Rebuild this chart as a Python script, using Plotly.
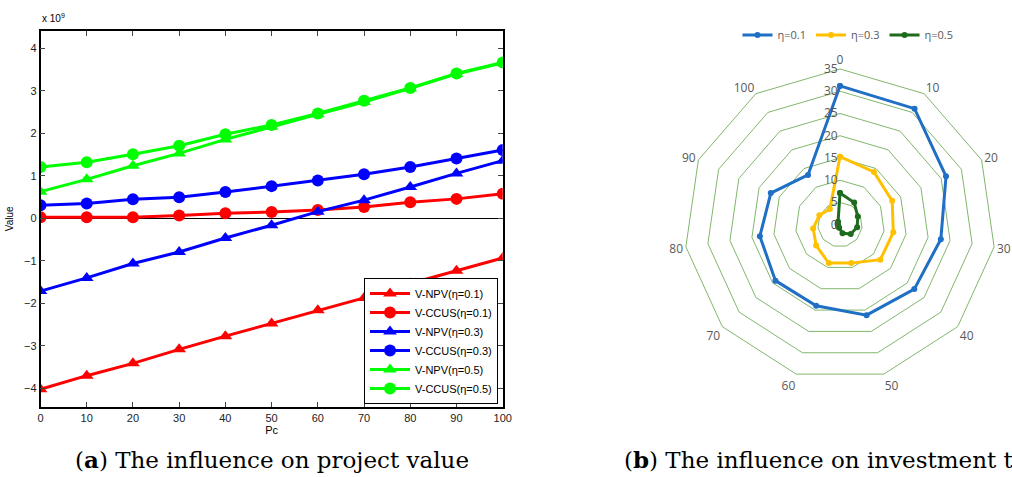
import plotly.graph_objects as go

# ---------------- data: left chart (values in units of 1e9) ----------------
pc = [0, 10, 20, 30, 40, 50, 60, 70, 80, 90, 100]
npv_01 = [-4.02, -3.70, -3.41, -3.08, -2.77, -2.47, -2.16, -1.87, -1.53, -1.23, -0.93]
ccus_01 = [0.03, 0.03, 0.03, 0.07, 0.12, 0.15, 0.20, 0.27, 0.38, 0.46, 0.58]
npv_03 = [-1.71, -1.40, -1.06, -0.79, -0.46, -0.16, 0.16, 0.43, 0.74, 1.06, 1.36]
ccus_03 = [0.31, 0.35, 0.45, 0.50, 0.62, 0.76, 0.89, 1.04, 1.21, 1.41, 1.61]
npv_05 = [0.63, 0.92, 1.24, 1.53, 1.86, 2.16, 2.45, 2.74, 3.06, 3.40, 3.66]
ccus_05 = [1.21, 1.32, 1.51, 1.71, 1.98, 2.20, 2.47, 2.77, 3.07, 3.41, 3.67]
y_ticks = [-4, -3, -2, -1, 0, 1, 2, 3, 4]

# ---------------- data: right chart (radar) ----------------
radar_cats = ["0", "10", "20", "30", "40", "50", "60", "70", "80", "90", "100"]
eta_01 = [31.2, 31.0, 26.2, 22.9, 22.1, 21.2, 19.0, 19.2, 18.2, 17.1, 13.3]
eta_03 = [15.3, 14.1, 12.9, 12.1, 12.0, 9.0, 9.0, 7.1, 6.1, 5.1, 4.2]
eta_05 = [7.1, 5.9, 4.4, 3.9, 3.2, 2.0, 0.7, 0.5, 0.5, 0.6, 0.8]

W, H = 1012, 477
fig = go.Figure()

left_series = [
    ("V-NPV(η=0.1)", npv_01, "#FF0000", "triangle-up"),
    ("V-CCUS(η=0.1)", ccus_01, "#FF0000", "circle"),
    ("V-NPV(η=0.3)", npv_03, "#0000FF", "triangle-up"),
    ("V-CCUS(η=0.3)", ccus_03, "#0000FF", "circle"),
    ("V-NPV(η=0.5)", npv_05, "#00FF00", "triangle-up"),
    ("V-CCUS(η=0.5)", ccus_05, "#00FF00", "circle"),
]
for name, vals, col, sym in left_series:
    fig.add_trace(go.Scatter(
        x=pc, y=vals, name=name, mode="lines+markers",
        line=dict(color=col, width=3),
        marker=dict(symbol=sym, size=12, color=col),
        legend="legend", xaxis="x", yaxis="y"))

radar_series = [
    ("η=0.1", eta_01, "#1F6FC5"),
    ("η=0.3", eta_03, "#FFC000"),
    ("η=0.5", eta_05, "#1E6B1E"),
]
for name, vals, col in radar_series:
    fig.add_trace(go.Scatterpolar(
        r=vals + vals[:1], theta=radar_cats + radar_cats[:1], name=name,
        mode="lines+markers", line=dict(color=col, width=3),
        marker=dict(size=6, color=col), subplot="polar", legend="legend2"))

font_sans = "Liberation Sans, Arial, sans-serif"
ring = "#82B76C"
gray = "#595959"

fig.update_layout(
    width=W, height=H, margin=dict(l=0, r=0, t=0, b=0, autoexpand=False),
    paper_bgcolor="white", plot_bgcolor="white",
    font=dict(family=font_sans, size=11, color="black"),
    xaxis=dict(domain=[40.5 / W, 502.7 / W], range=[0, 100], tickvals=pc,
               ticks="inside", ticklen=5, mirror="ticks", showline=True,
               linecolor="black", linewidth=1.5, showgrid=False, zeroline=False,
               automargin=False,
               tickfont=dict(size=11, color="#222"),
               title=dict(text="Pc", font=dict(size=11), standoff=4)),
    yaxis=dict(domain=[1 - 406.7 / H, 1 - 31 / H], range=[-4.43, 4.41],
               tickvals=y_ticks, ticks="inside", ticklen=5, mirror="ticks",
               showline=True, linecolor="black", linewidth=1.5, showgrid=False,
               zeroline=True, zerolinecolor="black", zerolinewidth=1,
               automargin=False,
               tickfont=dict(size=11, color="#222"),
               title=dict(text="Value", font=dict(size=10), standoff=8)),
    legend=dict(x=364 / W, y=1 - 404 / H, xanchor="left", yanchor="bottom",
                bordercolor="black", borderwidth=1, bgcolor="white",
                font=dict(size=11, family=font_sans), itemwidth=40,
                tracegroupgap=0),
    legend2=dict(orientation="h", x=848 / W, y=1 - 35 / H, xanchor="center",
                 yanchor="middle", bgcolor="rgba(0,0,0,0)",
                 font=dict(size=11, color=gray, family="Open Sans, sans-serif"),
                 itemwidth=30),
    polar=dict(
        domain=dict(x=[(840 - 155.7) / W, (840 + 155.7) / W],
                    y=[1 - (224.7 + 155.7) / H, 1 - (224.7 - 155.7) / H]),
        gridshape="linear", bgcolor="white",
        angularaxis=dict(type="category", categoryarray=radar_cats,
                         direction="clockwise", rotation=90, showgrid=False,
                         showline=True, linecolor=ring, linewidth=1, ticks="",
                         tickfont=dict(size=12, color=gray,
                                       family="Open Sans, sans-serif")),
        radialaxis=dict(range=[0, 35], dtick=5, showline=False, ticks="",
                        gridcolor=ring, gridwidth=1, angle=90, tickangle=90,
                        side="counterclockwise",
                        tickfont=dict(size=12, color=gray,
                                      family="Open Sans, sans-serif")),
    ),
    annotations=[
        dict(text="x 10<sup>9</sup>", x=40 / W, y=1 - 18 / H, xref="paper",
             yref="paper", xanchor="left", yanchor="middle", showarrow=False,
             font=dict(size=10, family=font_sans)),
        dict(text="(<b>a</b>) The influence on project value", x=272 / W,
             y=1 - 459 / H, xref="paper", yref="paper", xanchor="center",
             yanchor="middle", showarrow=False,
             font=dict(size=23, family="DejaVu Serif, serif", color="black")),
        dict(text="(<b>b</b>) The influence on investment timing", x=622 / W,
             y=1 - 459 / H, xref="paper", yref="paper", xanchor="left",
             yanchor="middle", showarrow=False,
             font=dict(size=23, family="DejaVu Serif, serif", color="black")),
    ],
)

fig.write_html("out.html", config={"displayModeBar": False})

# remove the browser's default 8px body margin so the figure sits at (0, 0)
with open("out.html", "r", encoding="utf-8") as f:
    html = f.read()
html = html.replace("<head>", "<head><style>html,body{margin:0;padding:0;overflow:hidden;}</style>", 1)
with open("out.html", "w", encoding="utf-8") as f:
    f.write(html)
